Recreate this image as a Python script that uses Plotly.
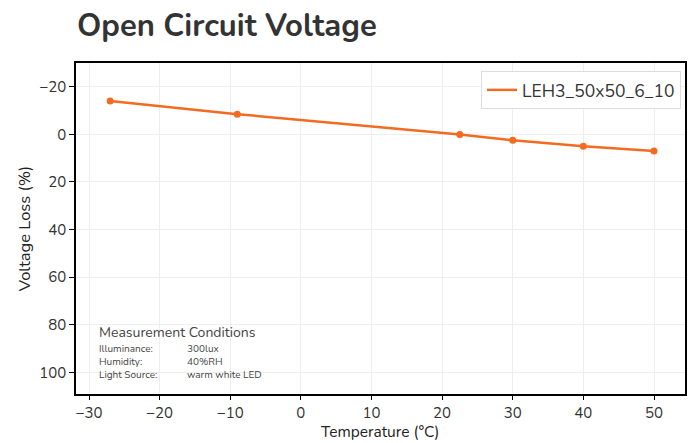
import plotly.graph_objects as go

temperature = [-27, -9, 22.5, 30, 40, 50]
voltage_loss = [-14, -8.5, 0, 2.5, 5, 7]
series_name = "LEH3_50x50_6_10"
x_title = "Temperature (°C)"
y_title = "Voltage Loss (%)"
cond_labels = ["Illuminance:", "Humidity:", "Light Source:"]
cond_values = ["300lux", "40%RH", "warm white LED"]

FONT = "Nunito, Lato, sans-serif"
ORANGE = "#F26B21"

W, H = 694, 443
L, R, T, B = 76, 9, 63, 49
PW, PH = W - L - R, H - T - B

def px(x):
    return (x - L) / PW

def py(y):
    return (H - B - y) / PH

fig = go.Figure()
fig.add_trace(go.Scatter(
    x=temperature, y=voltage_loss, mode="lines+markers", name=series_name,
    line=dict(color=ORANGE, width=2.5), marker=dict(color=ORANGE, size=7),
    showlegend=False, legendgroup="s",
))
# legend entry shows line only
fig.add_trace(go.Scatter(
    x=[None], y=[None], mode="lines", name=series_name,
    line=dict(color=ORANGE, width=2.5), legendgroup="s", showlegend=True,
))

fig.update_layout(
    width=W, height=H,
    margin=dict(l=L, r=R, t=T, b=B),
    paper_bgcolor="white", plot_bgcolor="white",
    font=dict(family=FONT, color="#333", size=15),
    title=dict(text="<b>Open Circuit Voltage</b>", x=77/W, xanchor="left",
               y=1-25/H, yanchor="middle",
               font=dict(size=31, color="#333", family=FONT)),
    showlegend=True,
    legend=dict(x=px(681), y=py(71), xanchor="right", yanchor="top",
                bordercolor="#ddd", borderwidth=1, bgcolor="white",
                font=dict(size=17.5, color="#333")),
    xaxis=dict(range=[-31.84, 54.39], tickvals=[-30, -20, -10, 0, 10, 20, 30, 40, 50],
               showgrid=True, gridcolor="#eee", zeroline=False, automargin=False,
               showline=True, linecolor="black", linewidth=1.5, mirror=True,
               ticks="outside", ticklen=4, tickcolor="black"),
    yaxis=dict(range=[109.1, -30], tickvals=[-20, 0, 20, 40, 60, 80, 100],
               showgrid=True, gridcolor="#eee", zeroline=False, automargin=False,
               showline=True, linecolor="black", linewidth=1.5, mirror=True,
               ticks="outside", ticklen=5, tickcolor="black",
               title=dict(text=y_title, font=dict(size=16.5, color="#222"), standoff=4)),
)

# x-axis title placed in the bottom margin
fig.add_annotation(xref="paper", yref="paper", x=px(379), y=py(H),
                   xanchor="center", yanchor="bottom", showarrow=False, borderpad=0,
                   text=x_title, font=dict(size=15.5, color="#222"))

fig.add_annotation(xref="paper", yref="paper", x=px(97), y=py(332),
                   xanchor="left", yanchor="middle", showarrow=False,
                   text="Measurement Conditions", font=dict(size=14, color="#444"))
fig.add_annotation(xref="paper", yref="paper", x=px(97), y=py(362),
                   xanchor="left", yanchor="middle", showarrow=False, align="left",
                   text="<br>".join(cond_labels), font=dict(size=10, color="#444"))
fig.add_annotation(xref="paper", yref="paper", x=px(185), y=py(362),
                   xanchor="left", yanchor="middle", showarrow=False, align="left",
                   text="<br>".join(cond_values), font=dict(size=10, color="#444"))

fig.write_html("out.html")
